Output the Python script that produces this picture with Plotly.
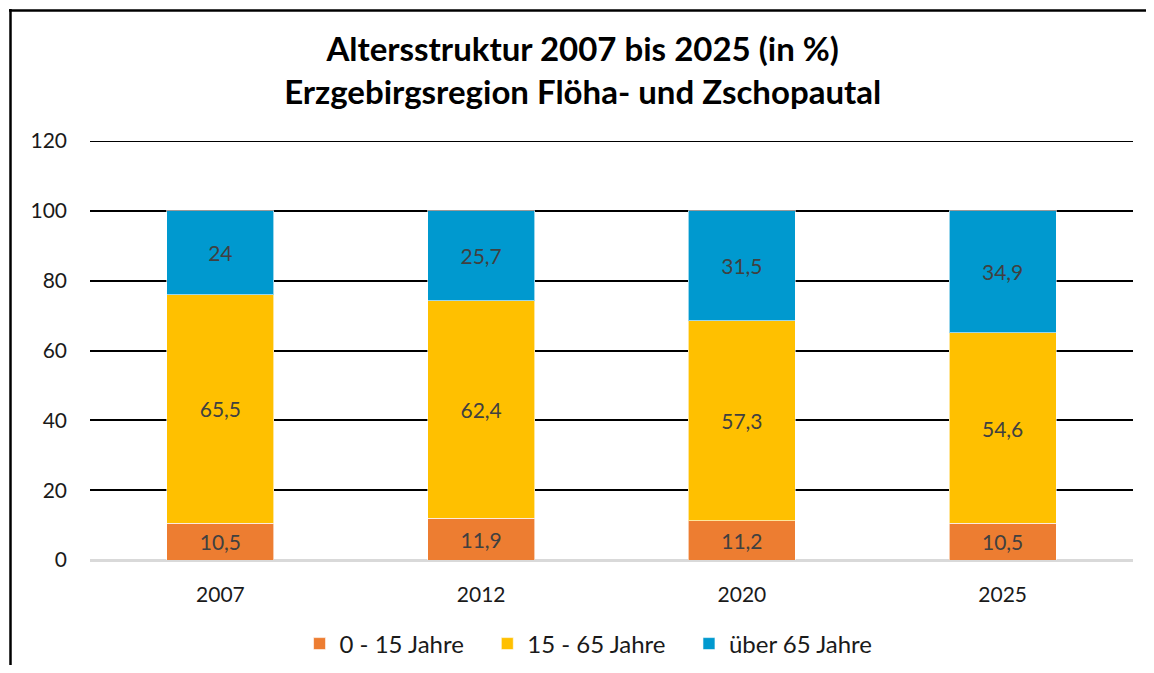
import plotly.graph_objects as go

years = ["2007", "2012", "2020", "2025"]
jung = [10.5, 11.9, 11.2, 10.5]
mittel = [65.5, 62.4, 57.3, 54.6]
alt = [24, 25.7, 31.5, 34.9]
series_names = ["0 - 15 Jahre", "15 - 65 Jahre", "über 65 Jahre"]
colors = ["#ED7D31", "#FFC000", "#0099CF"]

FONT = "Lato, DejaVu Sans"
PAD = "\u00a0" * 3

def fmt(v):
    return ("%g" % v).replace(".", ",")

fig = go.Figure()
for i, (name, vals, col) in enumerate(zip(series_names, [jung, mittel, alt], colors)):
    fig.add_trace(go.Bar(
        x=years, y=vals, name=name + (PAD if i < 2 else ""),
        marker=dict(color=col, line=dict(color="rgba(255,255,255,0.6)", width=1)),
        text=[fmt(v) for v in vals], textposition="inside", insidetextanchor="middle",
        textfont=dict(family=FONT, size=21, color="#404040"),
        width=0.41,
    ))

# page body has an 8px margin on every side; size the figure so the page does not overflow
OFF = 8
W, H = 1154 - 2 * OFF, 673 - 2 * OFF
ml = 90 - OFF
mt = 141 - OFF
mr = W - (1133 - OFF)
mb = H - (560 - OFF)
pw = W - ml - mr
ph = H - mt - mb

def px_x(p):
    return (p - OFF - ml) / pw

def px_y(p):
    return (H - mb - (p - OFF)) / ph

fig.update_layout(
    width=W, height=H, barmode="stack",
    margin=dict(l=ml, r=mr, t=mt, b=mb, autoexpand=False),
    plot_bgcolor="white", paper_bgcolor="white",
    font=dict(family=FONT, color="#1a1a1a"),
    title=dict(
        text="<b>Altersstruktur 2007 bis 2025 (in %)<br>Erzgebirgsregion Flöha- und Zschopautal</b>",
        x=0.505, xanchor="center", y=1 - (61 - OFF) / H, yanchor="middle",
        font=dict(size=33, color="#000000", family=FONT),
    ),
    yaxis=dict(
        range=[0, 120], dtick=20, showgrid=True, gridcolor="#000000", gridwidth=2,
        zeroline=True, zerolinecolor="#D9D9D9", zerolinewidth=3,
        tickfont=dict(size=21, color="#1a1a1a"), ticklabelstandoff=22, showline=False,
    ),
    xaxis=dict(
        type="category", tickfont=dict(size=21, color="#1a1a1a"), showline=False,
        ticklabelstandoff=20,
    ),
    legend=dict(
        orientation="h", x=0.478, xanchor="center", y=px_y(644), yanchor="middle",
        font=dict(size=24, color="#1a1a1a"), traceorder="normal",
    ),
    shapes=[
        dict(type="line", xref="paper", yref="y", x0=0, x1=1, y0=120, y1=120,
             line=dict(color="#000000", width=2), layer="below"),
        dict(type="line", xref="paper", yref="paper", x0=px_x(9), x1=px_x(1170),
             y0=px_y(10.5), y1=px_y(10.5), line=dict(color="#000000", width=2.5)),
        dict(type="line", xref="paper", yref="paper", x0=px_x(10.5), x1=px_x(10.5),
             y0=px_y(9), y1=px_y(690), line=dict(color="#000000", width=2.5)),
    ],
)

fig.write_html("out.html", config={"displayModeBar": False})
